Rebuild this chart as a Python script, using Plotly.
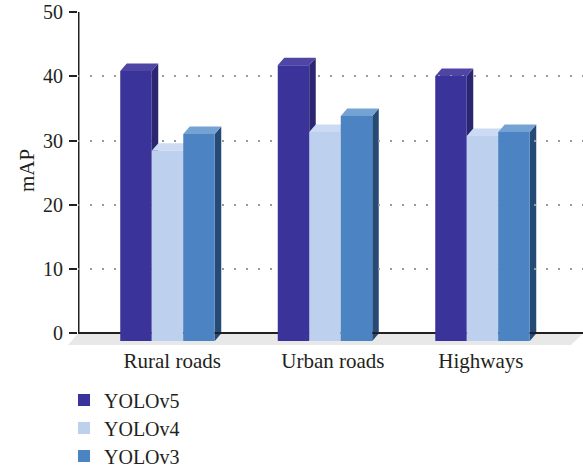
import plotly.graph_objects as go

categories = ["Rural roads", "Urban roads", "Highways"]
series_names = ["YOLOv5", "YOLOv4", "YOLOv3"]
yolov5 = [42.0, 42.9, 41.2]
yolov4 = [29.6, 32.5, 31.9]
yolov3 = [32.2, 35.0, 32.5]
tick_values = [0, 10, 20, 30, 40, 50]

series = [yolov5, yolov4, yolov3]
front = ["#3A3399", "#BDD0EE", "#4C84C3"]
top = ["#4F45A5", "#CCDAF3", "#74A3D3"]
side = ["#2C2670", "#AABCE0", "#254A75"]

FONT = "Liberation Serif"
INK = "#231F20"
FS = 20
WIDTH, HEIGHT = 583, 471
L, R, T, B = 78, 0, 12, 126
px_per_cat = 157.5
cat0_px = 167.5
xmin = (L - cat0_px) / px_per_cat
xmax = (WIDTH - cat0_px) / px_per_cat
ymin = -1.79
ymax = 50
depth_y = 1.17
depth_x = 6.5 / px_per_cat
bar_w = 31.5 / px_per_cat

fig = go.Figure()
shapes = []
legend_ids = ["legend", "legend2", "legend3"]
for s, (name, vals) in enumerate(zip(series_names, series)):
    off = (s - 1) * bar_w
    fig.add_trace(go.Bar(
        x=[i + off for i in range(3)], y=[v for v in vals],
        base=-depth_y, width=bar_w, name=name,
        marker=dict(color=front[s], line=dict(width=0)),
        legend=legend_ids[s], hoverinfo="x+y", showlegend=True,
    ))
    for i, v in enumerate(vals):
        x0 = i + off - bar_w / 2
        x1 = i + off + bar_w / 2
        yf = v - depth_y
        yb = v
        shapes.append(dict(type="path", layer="below", xref="x", yref="y", line=dict(width=0), fillcolor=side[s],
                           path=f"M{x1},{-depth_y} L{x1+depth_x},0 L{x1+depth_x},{yb} L{x1},{yf} Z"))
        shapes.append(dict(type="path", layer="below", xref="x", yref="y", line=dict(width=0), fillcolor=top[s],
                           path=f"M{x0},{yf} L{x0+depth_x},{yb} L{x1+depth_x},{yb} L{x1},{yf} Z"))

plot_w = WIDTH - L - R
# floor
shapes.insert(0, dict(type="path", layer="below", xref="paper", yref="y", line=dict(width=0), fillcolor="#E8E8E8",
                      path=f"M{(68-L)/plot_w},{ymin} L{0},0 L1,0 L{(571-L)/plot_w},{ymin} Z"))
# y-axis line
shapes.append(dict(type="line", layer="below", xref="paper", yref="y", x0=0.0015, x1=0.0015, y0=0, y1=ymax,
                   line=dict(color=INK, width=1.5)))

legend_rows = [400, 428, 456]
legends = {}
for lid, row in zip(legend_ids, legend_rows):
    legends[lid] = dict(x=64 / WIDTH, xref="container", y=1 - row / HEIGHT, yref="container",
                        xanchor="left", yanchor="middle", bgcolor="rgba(0,0,0,0)",
                        font=dict(family=FONT, size=FS, color=INK), itemwidth=30)

fig.update_layout(
    width=WIDTH, height=HEIGHT, autosize=False,
    margin=dict(l=L, r=R, t=T, b=B, autoexpand=False),
    plot_bgcolor="white", paper_bgcolor="white",
    font=dict(family=FONT, size=FS, color=INK),
    barmode="overlay", shapes=shapes,
    xaxis=dict(range=[xmin, xmax], tickmode="array", tickvals=[0.03, 1.05, 1.99], ticktext=categories,
               showgrid=False, showline=False, zeroline=False, ticks="", ticklabelstandoff=1, automargin=False,
               tickfont=dict(family=FONT, size=21, color=INK)),
    yaxis=dict(range=[ymin, ymax], tickmode="array", tickvals=tick_values, showgrid=True, automargin=False,
               gridcolor="#9A9A9A", gridwidth=1.5, griddash="1.5px,10.5px",
               zeroline=True, zerolinecolor=INK, zerolinewidth=1.5,
               showline=False, ticks="outside", ticklen=8, tickwidth=1.5, tickcolor=INK, ticklabelstandoff=2,
               tickfont=dict(family=FONT, size=FS, color=INK)),
    annotations=[dict(text="mAP", xref="paper", yref="paper", x=(27 - L) / plot_w, y=1 - (171 - T) / (HEIGHT - T - B),
                      xanchor="center", yanchor="middle", textangle=-90, showarrow=False,
                      font=dict(family=FONT, size=21, color=INK))],
    **legends,
)
fig.write_html("out.html", config=dict(displayModeBar=False),
               post_script="document.body.style.margin='0';document.body.style.overflow='hidden';")
